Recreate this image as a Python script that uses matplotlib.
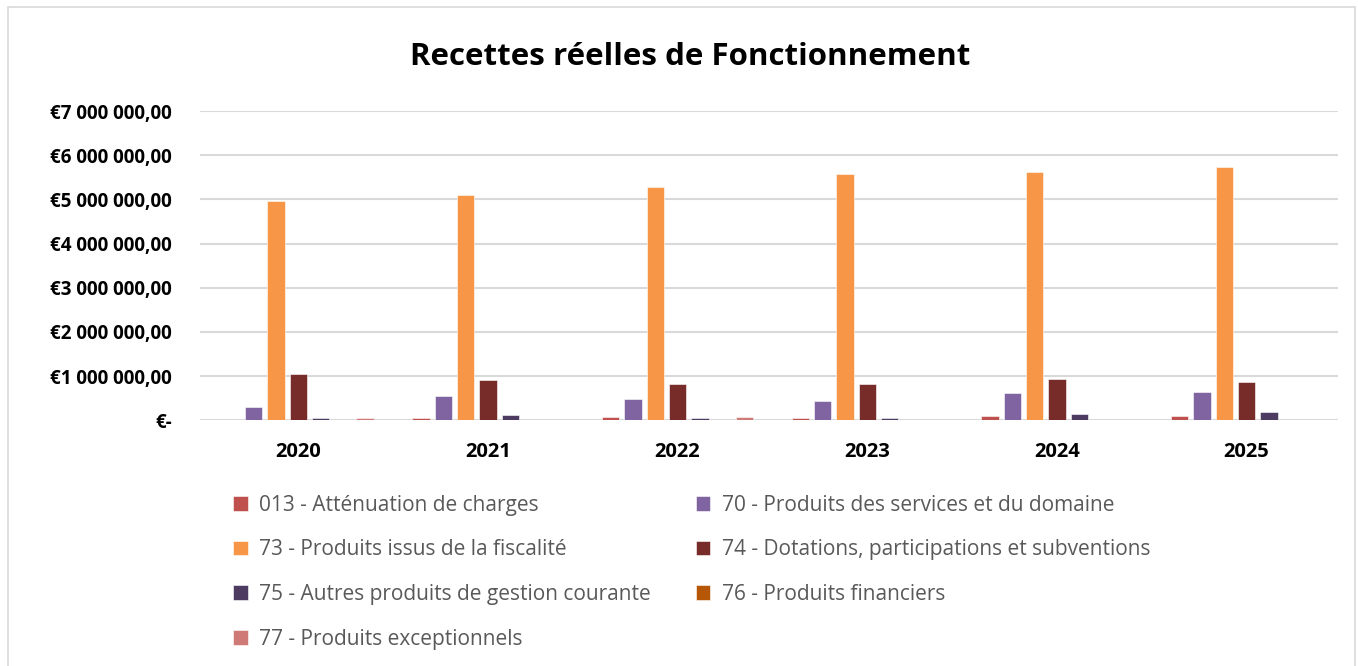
import matplotlib.pyplot as plt
from matplotlib.patches import Rectangle
from matplotlib.ticker import FixedLocator
import numpy as np

plt.rcParams['font.family'] = ['Open Sans', 'DejaVu Sans']

years = ["2020", "2021", "2022", "2023", "2024", "2025"]

# values in euros
c013 = [0, 40000, 80000, 50000, 95000, 100000]
c70 = [295000, 540000, 475000, 430000, 620000, 635000]
c73 = [4960000, 5100000, 5280000, 5570000, 5620000, 5740000]
c74 = [1040000, 915000, 830000, 815000, 930000, 860000]
c75 = [45000, 120000, 60000, 60000, 140000, 180000]
c76 = [0, 0, 0, 0, 0, 0]
c77 = [55000, 0, 70000, 0, 0, 0]

labels = [
    "013 - Atténuation de charges",
    "70 - Produits des services et du domaine",
    "73 - Produits issus de la fiscalité",
    "74 - Dotations, participations et subventions",
    "75 - Autres produits de gestion courante",
    "76 - Produits financiers",
    "77 - Produits exceptionnels",
]
series = [c013, c70, c73, c74, c75, c76, c77]
colors = ["#C0504D", "#8064A2", "#F79646", "#772C2A", "#4D3B62", "#B65708", "#D07A78"]

yticks = [0, 1e6, 2e6, 3e6, 4e6, 5e6, 6e6, 7e6]
ytick_labels = ["€-", "€1 000 000,00", "€2 000 000,00", "€3 000 000,00",
                "€4 000 000,00", "€5 000 000,00", "€6 000 000,00", "€7 000 000,00"]

fig = plt.figure(figsize=(13.58, 6.66), dpi=100)
ax = fig.add_axes([0.147, 0.369, 0.838, 0.4643])

x = np.arange(len(years))
step = 0.1176
width = 0.092
handles = []
for i, (vals, col) in enumerate(zip(series, colors)):
    b = ax.bar(x + (i - 3) * step + 0.02, vals, width, color=col, zorder=3,
               edgecolor="white", linewidth=0.4)
    handles.append(b)

ax.set_xlim(-0.5, len(years) - 0.5)
ax.set_ylim(0, 7e6)
ax.yaxis.set_major_locator(FixedLocator(yticks))
ax.set_yticklabels(ytick_labels, fontsize=13.5, fontweight="bold", color="black")
ax.set_xticks(x + 0.02)
ax.set_xticklabels(years, fontsize=14.5, fontweight="bold", color="black")
ax.tick_params(length=0)
ax.tick_params(axis="x", pad=16)
ax.tick_params(axis="y", pad=20)
ax.grid(axis="y", color="#D9D9D9", linewidth=1.5, zorder=0)
for s in ax.spines.values():
    s.set_visible(False)

fig.text(0.508, 0.914, "Recettes réelles de Fonctionnement", ha="center", va="center",
         fontsize=22.5, fontweight="bold", color="black")

order = [0, 2, 4, 6, 1, 3, 5]
leg = fig.legend([handles[k] for k in order], [labels[k] for k in order],
                 ncol=2, loc="upper left", bbox_to_anchor=(0.158, 0.285),
                 frameon=False, fontsize=15, labelcolor="#595959",
                 handlelength=0.7, handleheight=0.7, handletextpad=0.55,
                 labelspacing=1.13, columnspacing=2.15)

fig.add_artist(Rectangle((0.006, -0.01), 0.992, 1.0, transform=fig.transFigure,
                         fill=False, edgecolor="#D9D9D9", linewidth=1.2))

fig.savefig("out.png", dpi=100)
